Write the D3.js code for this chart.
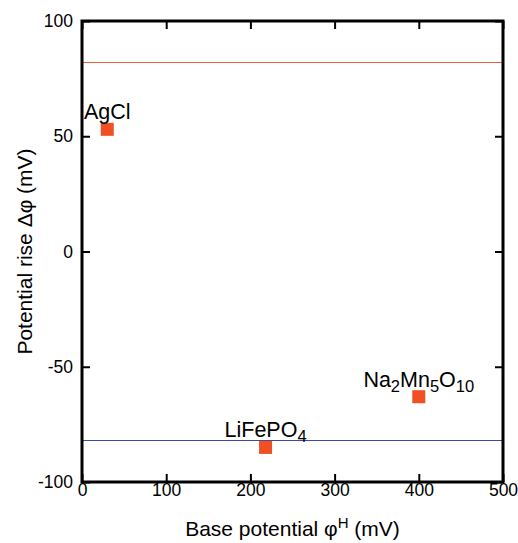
<!DOCTYPE html>
<html>
<head>
<meta charset="utf-8">
<script src="https://cdn.jsdelivr.net/npm/d3@7"></script>
<style>
  body { margin: 0; background: #fff; }
  svg { display: block; font-family: "Liberation Sans", Arial, sans-serif; }
</style>
</head>
<body>
<div id="chart"></div>
<script>
// data
var materials = ['AgCl', 'LiFePO4', 'Na2Mn5O10'];
var basePotential = [30, 218, 400];   // mV
var potentialRise = [53, -85, -63];   // mV
var refLevels = [82, -82];
var refColors = ['#e8603c', '#3b4a9c'];
var xTicks = [0, 100, 200, 300, 400, 500];
var yTicks = [-100, -50, 0, 50, 100];

var WIDTH = 518;
var HEIGHT = 543;
var MARGIN = { top: 21, right: 15, bottom: 61, left: 82 };
var TICK = 8;
var POINT_SIZE = 13;
var POINT_COLOR = '#f05024';
var LABEL_SIZE = 21.5;
var SUB_SIZE = 16.5;

var w = WIDTH - MARGIN.left - MARGIN.right;
var h = HEIGHT - MARGIN.top - MARGIN.bottom;

var x = d3.scaleLinear().domain([0, 500]).range([0, w]);
var y = d3.scaleLinear().domain([-100, 100]).range([h, 0]);

var svg = d3.select('#chart').append('svg')
    .attr('width', WIDTH)
    .attr('height', HEIGHT);
var g = svg.append('g')
    .attr('transform', 'translate(' + MARGIN.left + ',' + MARGIN.top + ')');

/** horizontal reference levels */
g.selectAll('.ref').data(refLevels).enter().append('line')
    .attr('class', 'ref')
    .attr('x1', 0).attr('x2', w)
    .attr('y1', function (d) { return y(d); })
    .attr('y2', function (d) { return y(d); })
    .attr('stroke', function (d, i) { return refColors[i]; })
    .attr('stroke-width', 1.2);

/** axes, ticks pointing inward on all four sides */
function styleAxis(sel) {
    sel.select('.domain').remove();
    sel.selectAll('.tick line').attr('stroke', '#000').attr('stroke-width', 2);
    sel.selectAll('.tick text').attr('fill', '#000').style('font-size', '17.5px');
}
var plain = function (d) { return String(d); };
g.append('g')
    .attr('transform', 'translate(0,' + h + ')')
    .call(d3.axisBottom(x).tickValues(xTicks).tickSize(-TICK).tickPadding(2)
        .tickFormat(plain))
    .call(styleAxis);
g.append('g')
    .call(d3.axisLeft(y).tickValues(yTicks).tickSize(-TICK).tickPadding(9)
        .tickFormat(plain))
    .call(styleAxis);
g.append('g')
    .call(d3.axisTop(x).tickValues(xTicks).tickSize(-TICK).tickFormat(''))
    .call(styleAxis);
g.append('g')
    .attr('transform', 'translate(' + w + ',0)')
    .call(d3.axisRight(y).tickValues(yTicks).tickSize(-TICK).tickFormat(''))
    .call(styleAxis);

g.append('rect')
    .attr('width', w).attr('height', h)
    .attr('fill', 'none')
    .attr('stroke', '#000')
    .attr('stroke-width', 3);

/** points */
var pts = materials.map(function (m, i) {
    return { name: m, x: basePotential[i], y: potentialRise[i] };
});
g.selectAll('.pt').data(pts).enter().append('rect')
    .attr('class', 'pt')
    .attr('x', function (d) { return x(d.x) - POINT_SIZE / 2; })
    .attr('y', function (d) { return y(d.y) - POINT_SIZE / 2; })
    .attr('width', POINT_SIZE)
    .attr('height', POINT_SIZE)
    .attr('fill', POINT_COLOR);

/** labels with subscripted digits */
var labels = g.selectAll('.lbl').data(pts).enter().append('text')
    .attr('class', 'lbl')
    .attr('x', function (d) { return x(d.x); })
    .attr('y', function (d) { return y(d.y) - 10; })
    .attr('text-anchor', 'middle')
    .style('font-size', LABEL_SIZE + 'px');
labels.each(function (d) {
    var t = d3.select(this);
    var parts = d.name.match(/\d+|\D+/g);
    var sub = false;
    parts.forEach(function (p) {
        var isNum = /\d/.test(p);
        var dy = 0;
        if (isNum && !sub) { dy = 5; sub = true; }
        else if (!isNum && sub) { dy = -5; sub = false; }
        t.append('tspan')
            .attr('dy', dy)
            .style('font-size', (isNum ? SUB_SIZE : LABEL_SIZE) + 'px')
            .text(p);
    });
});

/** axis titles */
var xt = svg.append('text')
    .attr('x', MARGIN.left + w / 2)
    .attr('y', 536)
    .attr('text-anchor', 'middle')
    .style('font-size', '21px');
xt.append('tspan').text('Base potential φ');
xt.append('tspan').attr('dy', -8).style('font-size', '15px').text('H');
xt.append('tspan').attr('dy', 8).text(' (mV)');

svg.append('text')
    .attr('transform', 'translate(32,' + (MARGIN.top + h / 2) + ') rotate(-90)')
    .attr('text-anchor', 'middle')
    .style('font-size', '21px')
    .text('Potential rise Δφ (mV)');
</script>
</body>
</html>
